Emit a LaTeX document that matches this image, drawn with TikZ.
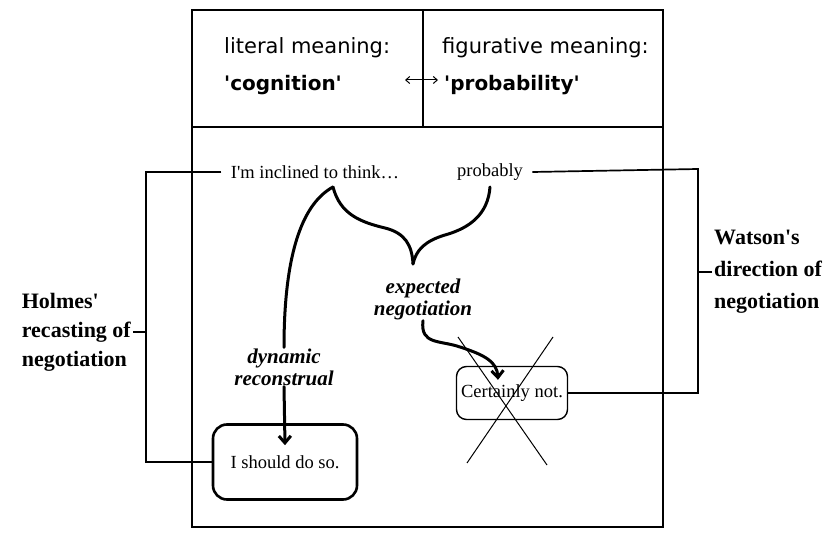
\documentclass[tikz,border=0pt]{standalone}
\usepackage{fontspec}
\setmainfont{Liberation Serif}
\newfontfamily\headfont{DejaVu Sans}
\usetikzlibrary{arrows.meta}

\tikzset{
  frame/.style={line width=1.3pt},
  bracket/.style={line width=1.7pt},
  heavy/.style={line width=3pt, line cap=round},
  headtxt/.style={font=\headfont\fontsize{21}{24}\selectfont, anchor=west, inner sep=0pt},
  utter/.style={font=\fontsize{18.5}{22}\selectfont},
  answer/.style={draw, utter, align=center},
  side/.style={font=\bfseries\fontsize{22}{29}\selectfont, align=left, inner sep=2pt},
  process/.style={font=\bfseries\itshape\fontsize{21}{22}\selectfont, align=center, inner sep=1pt}
}

\begin{document}
\begin{tikzpicture}[x=1pt,y=-1pt]
\useasboundingbox (0,0) rectangle (840,534);
% frame
\draw[frame] (192,10) rectangle (663,527);
\draw[frame] (192,127) -- (663,127);
\draw[frame] (423,10) -- (423,127);

% header
\node[headtxt] (litmean) at (224,48) {literal meaning:};
\node[headtxt, font=\headfont\bfseries\fontsize{20}{24}\selectfont] (cogn) at (224,85) {\textquotesingle cognition\textquotesingle};
\node[headtxt] (figmean) at (442,48) {figurative meaning:};
\node[headtxt, font=\headfont\bfseries\fontsize{20}{24}\selectfont] (probab) at (444,85) {\textquotesingle probability\textquotesingle};
\coordinate (swapl) at (405,80);
\coordinate (swapr) at (438,80);
\draw[line width=1pt, {Straight Barb[length=4pt,width=7pt]}-{Straight Barb[length=4pt,width=7pt]}] (swapl) -- (swapr);

% utterances
\node[utter] (think) at (315,172) {I\textquotesingle m inclined to think\ldots};
\node[utter] (probably) at (490,172) {probably};
\node[answer, line width=2.6pt, rounded corners=14pt, minimum width=144pt, minimum height=75pt] (should) at (285,462) {I should do so.};
\node[answer, line width=1.4pt, rounded corners=10pt, minimum width=111pt, minimum height=53pt] (certain) at (512,393) {Certainly not.};

% labels
\node[process] (recon) at (284,367) {dynamic\\reconstrual};
\node[process] (expect) at (423,299) {expected\\negotiation};
\node[side, anchor=east] (holmes) at (133,332) {Holmes\textquotesingle\\recasting of\\negotiation};
\node[side, anchor=west, font=\bfseries\fontsize{22}{32}\selectfont] (watson) at (712,272) {Watson\textquotesingle s\\direction of\\negotiation};

% brace
\coordinate (brl) at (333,187);
\coordinate (brr) at (490,187);
\coordinate (brm) at (413,264);
\draw[heavy] (brl) .. controls (340,214) and (360,222) .. (385,228)
  .. controls (405,233) and (412,245) .. (brm);
\draw[heavy] (brr) .. controls (488,214) and (470,228) .. (445,235)
  .. controls (425,241) and (416,250) .. (brm);
\draw[heavy] (brl) .. controls (300,205) and (284,260) .. (recon.north);

% arrows
\draw[heavy, -{Straight Barb[length=7pt,width=12pt]}] (recon.south) -- ([yshift=-22pt]should.north);
\draw[heavy, -{Straight Barb[length=7pt,width=12pt]}] (expect.south) .. controls (420,345) and (440,340) .. (460,347)
  .. controls (485,355) and (497,362) .. ([xshift=-14pt,yshift=-14pt]certain.north);

% brackets
\coordinate (hl) at (146,172);
\coordinate (wr) at (698,169);
\draw[bracket] ([xshift=-6pt]think.west) -- (hl) |- (should.west);
\draw[bracket] (holmes.east) -- (holmes.east -| hl);
\draw[bracket] ([xshift=6pt]probably.east) -- (wr) |- (certain.east);
\draw[bracket] (watson.west) -- (watson.west -| wr);

% crossed out
\draw[line width=1pt] (458,337) -- (547,465);
\draw[line width=1pt] (553,337) -- (467,463);
\end{tikzpicture}
\end{document}
